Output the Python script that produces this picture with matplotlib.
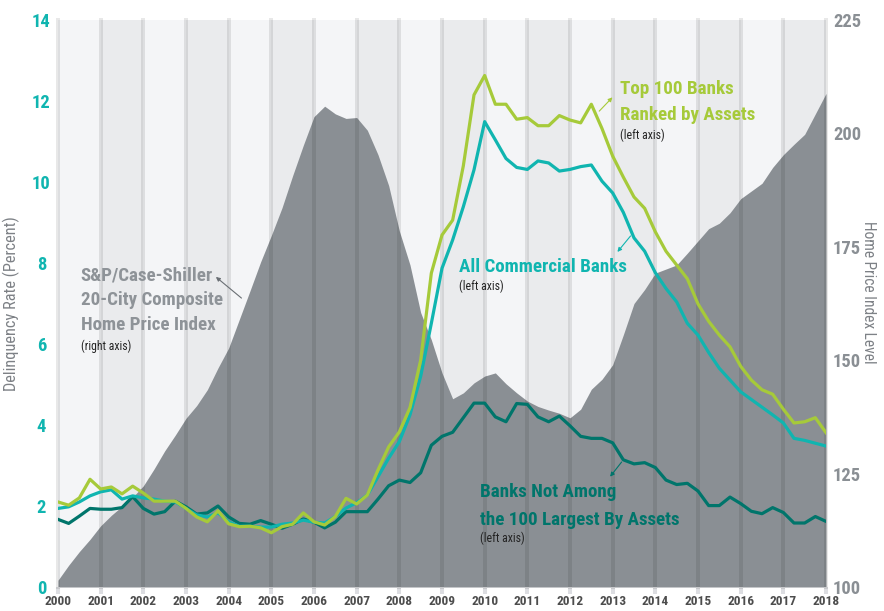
import numpy as np
import matplotlib
matplotlib.use('Agg')
import matplotlib.pyplot as plt
from matplotlib import font_manager

# quarterly, 2000Q1 .. 2018Q1
quarters = 2000 + np.arange(73) / 4.0

top100 = [2.10, 2.02, 2.20, 2.66, 2.42, 2.47, 2.30, 2.49, 2.32, 2.12, 2.12, 2.12,
          1.94, 1.73, 1.61, 1.88, 1.56, 1.49, 1.50, 1.46, 1.34, 1.49, 1.55, 1.83,
          1.61, 1.53, 1.74, 2.19, 2.05, 2.27, 2.89, 3.46, 3.83, 4.43, 5.60, 7.75,
          8.69, 9.06, 10.40, 12.15, 12.63, 11.92, 11.92, 11.55, 11.59, 11.39, 11.39, 11.64,
          11.53, 11.46, 11.92, 11.32, 10.64, 10.12, 9.63, 9.35, 8.77, 8.29, 7.95, 7.61,
          6.99, 6.56, 6.22, 5.93, 5.45, 5.11, 4.87, 4.76, 4.39, 4.05, 4.08, 4.18, 3.81]

all_banks = [1.94, 1.98, 2.10, 2.25, 2.35, 2.40, 2.17, 2.25, 2.20, 2.17, 2.12, 2.10,
             1.94, 1.78, 1.73, 1.83, 1.61, 1.50, 1.50, 1.48, 1.48, 1.55, 1.58, 1.65,
             1.60, 1.58, 1.74, 1.95, 2.08, 2.27, 2.72, 3.18, 3.59, 4.25, 5.20, 6.51,
             7.87, 8.57, 9.39, 10.30, 11.49, 11.04, 10.58, 10.36, 10.31, 10.52, 10.47, 10.27,
             10.31, 10.38, 10.42, 10.02, 9.73, 9.25, 8.62, 8.29, 7.76, 7.37, 7.04, 6.51,
             6.22, 5.79, 5.40, 5.11, 4.82, 4.63, 4.44, 4.25, 4.05, 3.67, 3.62, 3.55, 3.48]

not_top100 = [1.67, 1.57, 1.75, 1.94, 1.92, 1.92, 1.96, 2.23, 1.94, 1.80, 1.86, 2.12,
              1.98, 1.80, 1.83, 2.00, 1.73, 1.57, 1.55, 1.64, 1.55, 1.45, 1.55, 1.68,
              1.60, 1.46, 1.60, 1.86, 1.86, 1.86, 2.17, 2.50, 2.64, 2.58, 2.82, 3.50,
              3.72, 3.82, 4.18, 4.54, 4.54, 4.20, 4.08, 4.53, 4.51, 4.20, 4.08, 4.22,
              3.98, 3.72, 3.67, 3.67, 3.56, 3.14, 3.04, 3.07, 2.95, 2.64, 2.53, 2.56,
              2.37, 2.01, 2.01, 2.22, 2.06, 1.87, 1.81, 1.96, 1.84, 1.58, 1.58, 1.74, 1.62]

hpi = [101.5, 104.8, 107.8, 110.5, 113.5, 115.8, 117.8, 119.8, 122.3, 126.0, 130.0, 133.5,
       137.2, 140.0, 143.5, 148.3, 152.7, 159.0, 165.3, 171.7, 177.5, 183.6, 190.7, 197.4,
       203.7, 206.0, 204.3, 203.3, 203.5, 200.7, 195.3, 188.5, 178.5, 171.0, 160.5, 154.5,
       147.2, 141.5, 142.8, 145.0, 146.5, 147.2, 144.8, 142.8, 141.0, 139.8, 139.0, 138.3,
       137.3, 139.2, 143.6, 145.8, 149.0, 155.6, 162.5, 165.6, 169.2, 170.1, 171.0, 173.6,
       176.3, 179.0, 180.2, 182.5, 185.6, 187.3, 189.0, 192.5, 195.3, 197.6, 199.8, 204.3, 208.8]

years = list(range(2000, 2019))
left_ticks = [0, 2, 4, 6, 8, 10, 12, 14]
right_ticks = [100, 125, 150, 175, 200, 225]

GREEN = '#a6ca3a'
CYAN = '#10b5b0'
TEAL = '#00756b'
AREA = '#8a8f94'


# look for a condensed face, otherwise fall back to Roboto
def pick_font():
    fl = font_manager.fontManager.ttflist
    for want in ['Liberation Sans Narrow', 'Roboto Condensed', 'Open Sans Condensed']:
        if any(f.name == want for f in fl):
            return want, 'normal'
    if any(f.name == 'DejaVu Sans' and 'Condensed' in f.fname for f in fl):
        return 'DejaVu Sans', 'condensed'
    return 'Roboto', 'normal'


fam, stretch = pick_font()
plt.rcParams['font.family'] = [fam, 'DejaVu Sans']
plt.rcParams['font.stretch'] = stretch

fig = plt.figure(figsize=(8.84, 6.11), dpi=100)
rend = fig.canvas.get_renderer()


def size_for(s, target, weight='bold'):
    t = fig.text(0, 0, s, fontsize=10, fontweight=weight)
    w = t.get_window_extent(rend).width
    t.remove()
    return 10 * target / w


lab_fs = size_for('All Commercial Banks', 167)
small_fs = size_for('(left axis)', 44, 'normal')
ytick_fs = size_for('225', 28)
xtick_fs = size_for('2000', 27)
ylab_fs = size_for('Delinquency Rate (Percent)', 174, 'normal')

ax2 = fig.add_axes([58 / 884, 1 - 587 / 611, 768 / 884, 567 / 611])
ax = ax2.twinx()
ax.set_zorder(ax2.get_zorder() + 1)
ax.patch.set_visible(False)

# background bands and the home price area (right axis)
for y in years[:-1]:
    ax2.axvspan(y, y + 1, color='#f4f5f7' if y % 2 == 0 else '#eaebed', lw=0, zorder=0)
ax2.fill_between(quarters, 100, hpi, color=AREA, lw=0, zorder=1)
ax2.set_ylim(100, 225)
ax2.set_xlim(2000, 2018)

# year lines
for y in years:
    ax.axvline(y, color='black', alpha=0.09, lw=2.9, zorder=1, clip_on=False)

ax.plot(quarters, not_top100, color=TEAL, lw=2.3, zorder=3)
ax.plot(quarters, all_banks, color=CYAN, lw=2.3, zorder=4)
ax.plot(quarters, top100, color=GREEN, lw=2.3, zorder=5)
ax.set_ylim(0, 14)
ax.set_xlim(2000, 2018)

for a in (ax, ax2):
    for s in a.spines.values():
        s.set_visible(False)

ax2.yaxis.tick_right()
ax.yaxis.tick_left()

ax.set_yticks(left_ticks)
ax.set_yticklabels([str(t) for t in left_ticks], color=CYAN, fontweight='bold', fontsize=ytick_fs, ha='center')
ax.tick_params(axis='y', length=0, pad=12)
ax.set_ylabel('Delinquency Rate (Percent)', color='#7d8186', fontsize=ylab_fs)
ax.yaxis.set_label_position('left')
ax.yaxis.set_label_coords(-38 / 768, 0.5)

ax2.set_yticks(right_ticks)
ax2.set_yticklabels([str(t) for t in right_ticks], color=AREA, fontweight='bold', fontsize=ytick_fs)
ax2.tick_params(axis='y', length=0, pad=5)
ax2.set_ylabel('Home Price Index Level', color='#7d8186', fontsize=ylab_fs * 0.95, rotation=270, va='center')
ax2.yaxis.set_label_position('right')
ax2.yaxis.set_label_coords(1 + 50 / 768, 0.52)

ax2.set_xticks(years)
ax2.set_xticklabels([str(y) for y in years], color='#4d4d4d', fontweight='bold', fontsize=xtick_fs)
ax2.tick_params(axis='x', length=5, width=2.9, color='#dcdde1', pad=1)
ax.tick_params(axis='x', length=0, labelbottom=False)

# labels
lab = dict(fontweight='bold', fontsize=lab_fs, va='center', ha='left')
small = dict(fontsize=small_fs, va='center', ha='left', color='#222222')

ax.text(2000.53, 7.70, 'S&P/Case-Shiller', color='#8e9398', **lab)
ax.text(2000.53, 7.09, '20-City Composite', color='#8e9398', **lab)
ax.text(2000.53, 6.46, 'Home Price Index', color='#8e9398', **lab)
ax.text(2000.53, 5.95, '(right axis)', **small)
ax.annotate('', xy=(2003.65, 7.70), xytext=(2004.35, 7.09),
            arrowprops=dict(arrowstyle='-|>', color='#6a6f74', lw=0.8, mutation_scale=6))

ax.text(2013.18, 12.29, 'Top 100 Banks', color=GREEN, **lab)
ax.text(2013.18, 11.66, 'Ranked by Assets', color=GREEN, **lab)
ax.text(2013.18, 11.16, '(left axis)', **small)
ax.annotate('', xy=(2013.04, 12.14), xytext=(2012.64, 11.70),
            arrowprops=dict(arrowstyle='-|>', color=GREEN, lw=0.8, mutation_scale=6))

ax.text(2009.41, 7.90, 'All Commercial Banks', color=CYAN, **lab)
ax.text(2009.41, 7.43, '(left axis)', **small)
ax.annotate('', xy=(2013.07, 8.22), xytext=(2013.46, 8.72),
            arrowprops=dict(arrowstyle='-|>', color=CYAN, lw=0.8, mutation_scale=6))

ax.text(2009.88, 2.35, 'Banks Not Among', color=TEAL, **lab)
ax.text(2009.88, 1.65, 'the 100 Largest By Assets', color=TEAL, **lab)
ax.text(2009.88, 1.21, '(left axis)', **small)
ax.annotate('', xy=(2012.90, 2.67), xytext=(2013.25, 3.14),
            arrowprops=dict(arrowstyle='-|>', color=TEAL, lw=0.8, mutation_scale=6))

fig.savefig('out.png', dpi=100)
